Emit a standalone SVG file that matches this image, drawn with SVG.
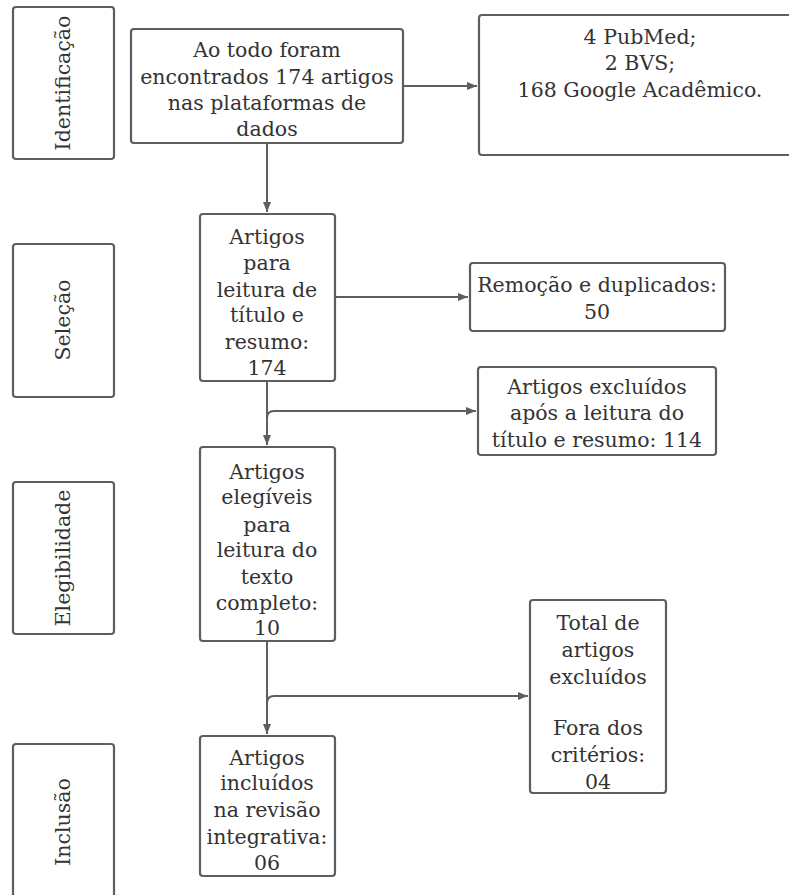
<svg xmlns="http://www.w3.org/2000/svg" width="789" height="895" viewBox="0 0 789 895">
<style>
.box{fill:#fff;stroke:#5e5e5e;stroke-width:2.2}
.t{font-family:"DejaVu Serif","Noto Serif","Liberation Serif",serif;font-size:20.5px;fill:#333;text-anchor:middle}
.c{fill:none;stroke:#5e5e5e;stroke-width:2}
</style>
<defs>
<marker id="ah" viewBox="0 0 10 10" refX="10" refY="5" markerWidth="10" markerHeight="10" markerUnits="userSpaceOnUse" orient="auto">
<path d="M0,1 L10,5 L0,9 z" fill="#5e5e5e"/>
</marker>
</defs>
<rect width="789" height="895" fill="#fff"/>
<g id="connectors">
<path class="c" d="M403,86 H477" marker-end="url(#ah)"/>
<path class="c" d="M267,143 V212" marker-end="url(#ah)"/>
<path class="c" d="M335,297 H468" marker-end="url(#ah)"/>
<path class="c" d="M267,381 V445" marker-end="url(#ah)"/>
<path class="c" d="M267,418 Q267,411 274,411 H476" marker-end="url(#ah)"/>
<path class="c" d="M267,641 V734" marker-end="url(#ah)"/>
<path class="c" d="M267,703 Q267,696 274,696 H528" marker-end="url(#ah)"/>
</g>
<g id="lbl-identificacao">
<rect class="box" x="13" y="7" width="101" height="152" rx="3"/>
<text class="t" transform="translate(70,83) rotate(-90)">Identificação</text>
</g>
<g id="lbl-selecao">
<rect class="box" x="13" y="244" width="101" height="153" rx="3"/>
<text class="t" transform="translate(70,320) rotate(-90)">Seleção</text>
</g>
<g id="lbl-elegibilidade">
<rect class="box" x="13" y="482" width="101" height="152" rx="3"/>
<text class="t" transform="translate(70,558) rotate(-90)">Elegibilidade</text>
</g>
<g id="lbl-inclusao">
<rect class="box" x="13" y="744" width="101" height="160" rx="3"/>
<text class="t" transform="translate(70,822) rotate(-90)">Inclusão</text>
</g>
<g id="n-total">
<rect class="box" x="131" y="29" width="272" height="114" rx="3"/>
<text class="t" x="267"><tspan x="267" y="57">Ao todo foram</tspan><tspan x="267" y="84">encontrados 174 artigos</tspan><tspan x="267" y="110">nas plataformas de</tspan><tspan x="267" y="136">dados</tspan></text>
</g>
<g id="n-bases">
<rect class="box" x="479" y="15" width="330" height="140" rx="3"/>
<text class="t"><tspan x="640" y="44">4 PubMed;</tspan><tspan x="640" y="70">2 BVS;</tspan><tspan x="640" y="97">168 Google Acadêmico.</tspan></text>
</g>
<g id="n-leitura">
<rect class="box" x="200" y="214" width="135" height="167" rx="3"/>
<text class="t"><tspan x="267" y="244">Artigos</tspan><tspan x="267" y="270">para</tspan><tspan x="267" y="297">leitura de</tspan><tspan x="267" y="322">título e</tspan><tspan x="267" y="349">resumo:</tspan><tspan x="267" y="375">174</tspan></text>
</g>
<g id="n-duplicados">
<rect class="box" x="470" y="263" width="255" height="68" rx="3"/>
<text class="t"><tspan x="597" y="292">Remoção e duplicados:</tspan><tspan x="597" y="319">50</tspan></text>
</g>
<g id="n-excluidos">
<rect class="box" x="478" y="367" width="238" height="88" rx="3"/>
<text class="t"><tspan x="597" y="394">Artigos excluídos</tspan><tspan x="597" y="420">após a leitura do</tspan><tspan x="597" y="447">título e resumo: 114</tspan></text>
</g>
<g id="n-elegiveis">
<rect class="box" x="200" y="447" width="135" height="194" rx="3"/>
<text class="t"><tspan x="267" y="479">Artigos</tspan><tspan x="267" y="504">elegíveis</tspan><tspan x="267" y="532">para</tspan><tspan x="267" y="557">leitura do</tspan><tspan x="267" y="584">texto</tspan><tspan x="267" y="610">completo:</tspan><tspan x="267" y="635">10</tspan></text>
</g>
<g id="n-total-excluidos">
<rect class="box" x="530" y="600" width="136" height="193" rx="3"/>
<text class="t"><tspan x="598" y="630">Total de</tspan><tspan x="598" y="657">artigos</tspan><tspan x="598" y="684">excluídos</tspan><tspan x="598" y="735">Fora dos</tspan><tspan x="598" y="762">critérios:</tspan><tspan x="598" y="789">04</tspan></text>
</g>
<g id="n-incluidos">
<rect class="box" x="200" y="736" width="135" height="140" rx="3"/>
<text class="t"><tspan x="267" y="765">Artigos</tspan><tspan x="267" y="790">incluídos</tspan><tspan x="267" y="817">na revisão</tspan><tspan x="267" y="844">integrativa:</tspan><tspan x="267" y="870">06</tspan></text>
</g>
</svg>
